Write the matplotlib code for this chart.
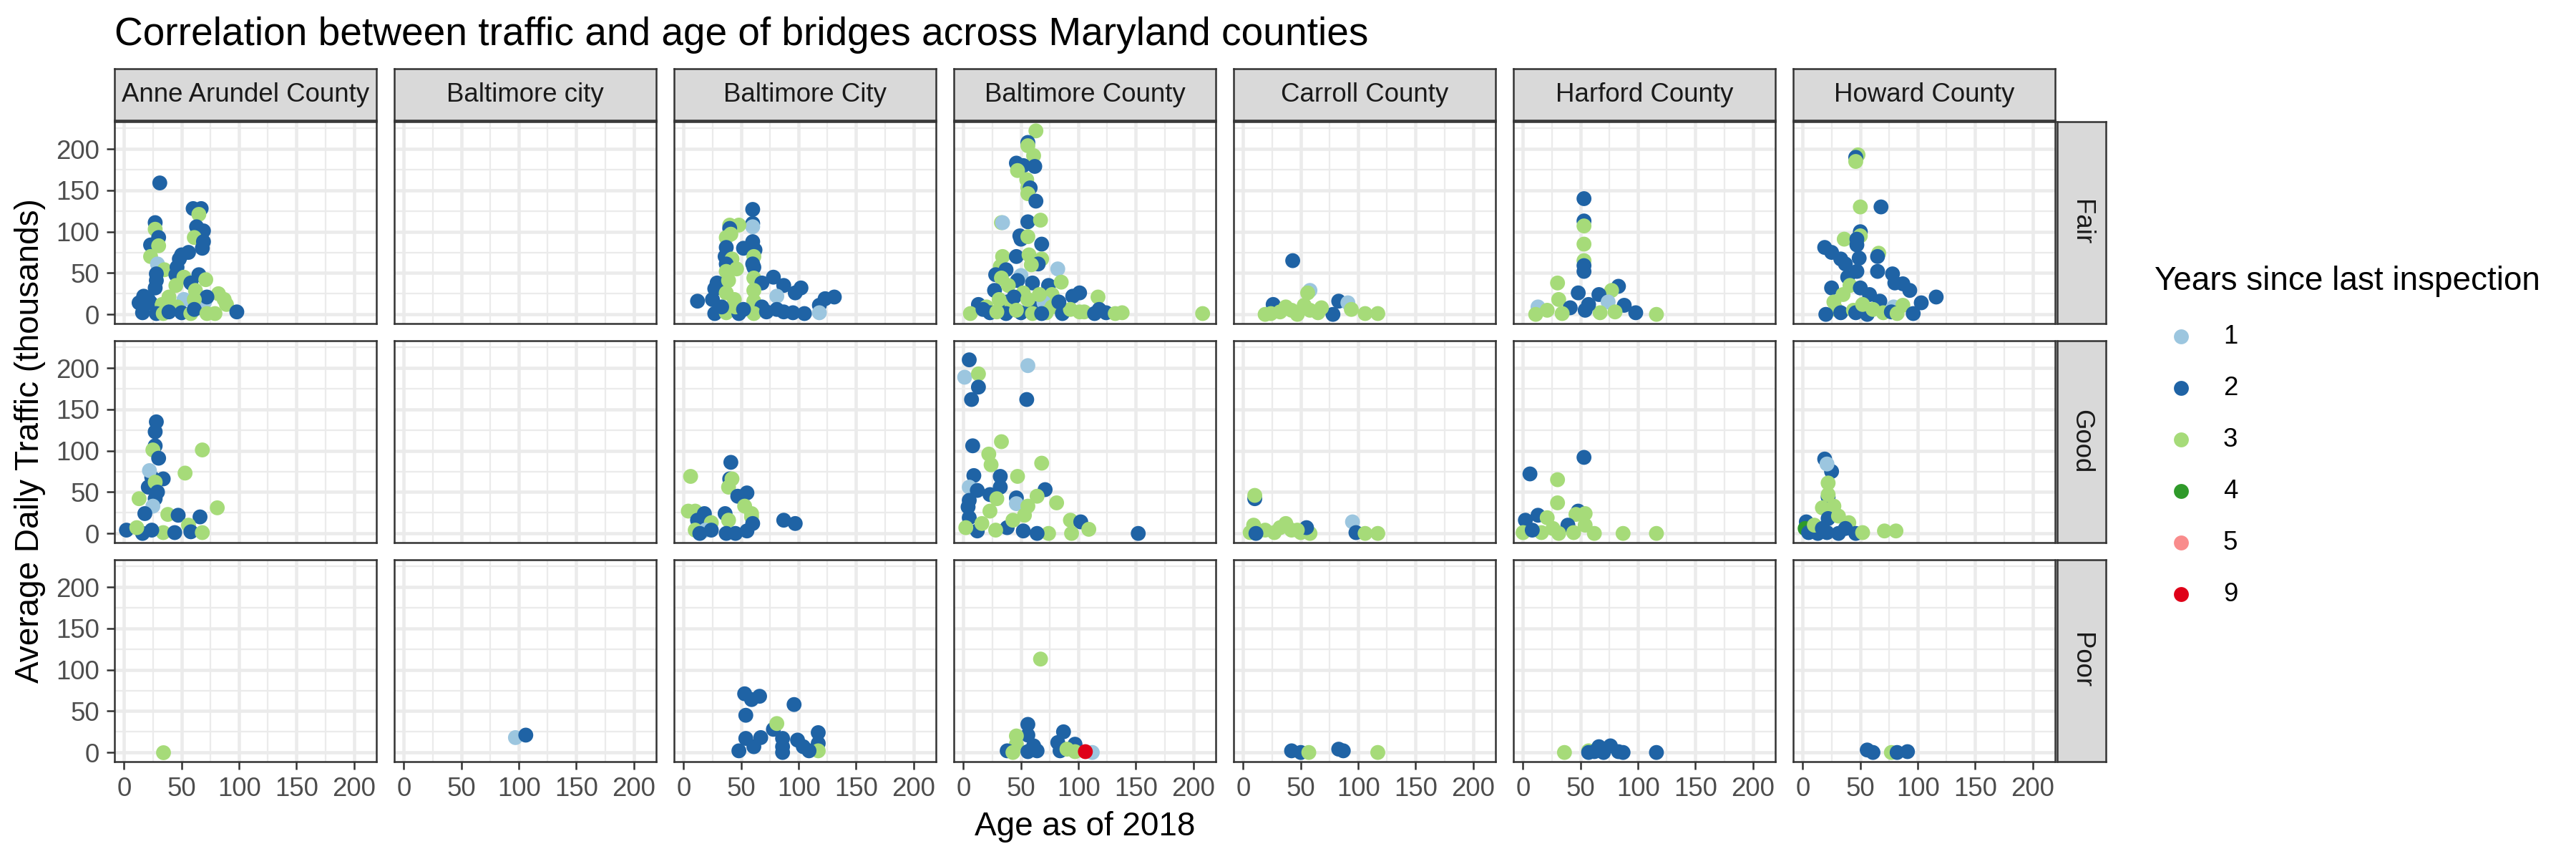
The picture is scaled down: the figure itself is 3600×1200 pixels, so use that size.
"""
Faceted scatter: bridge traffic vs. age, by county and condition
"""
import matplotlib
matplotlib.use("Agg")
import matplotlib.pyplot as plt

plt.rcParams["font.family"] = ["Liberation Sans", "DejaVu Sans"]

# facets
COUNTIES = ["Anne Arundel County", "Baltimore city", "Baltimore City", "Baltimore County",
            "Carroll County", "Harford County", "Howard County"]
CONDITIONS = ["Fair", "Good", "Poor"]

# years since last inspection -> colour
YEAR_LEVELS = [1, 2, 3, 4, 5, 9]
YEAR_COLORS = {1: "#9CC6DF", 2: "#1F63A5", 3: "#A6DB79", 4: "#2F9A2A", 5: "#F98C8C", 9: "#DF0018"}

TICKS = [0, 50, 100, 150, 200]
MINOR = [25, 75, 125, 175, 225]

# (age as of 2018, average daily traffic in thousands, years since inspection)
ANNE_FAIR = [(31, 159, 2), (60, 128, 2), (67, 128, 2), (65, 121, 3), (27, 111, 2), (27, 103, 3),
             (63, 106, 2), (69, 101, 2), (30, 93, 2), (61, 93, 3), (69, 88, 2), (23, 84, 2),
             (30, 83, 3), (68, 80, 2), (23, 70, 3), (56, 75, 2), (50, 72, 2), (48, 67, 2),
             (29, 61, 1), (35, 54, 3), (46, 57, 2), (28, 49, 2), (45, 48, 2), (65, 48, 2),
             (71, 42, 3), (28, 41, 2), (52, 45, 3), (58, 38, 2), (27, 32, 2), (45, 35, 3),
             (62, 29, 3), (17, 22, 2), (39, 21, 3), (82, 25, 3), (87, 18, 3), (13, 14, 2),
             (23, 14, 2), (33, 12, 3), (52, 18, 1), (70, 15, 1), (72, 21, 2), (61, 18, 3),
             (46, 9, 3), (16, 2, 2), (28, 1, 2), (34, 1, 3), (50, 2, 2), (58, 1, 3), (61, 6, 2),
             (72, 1, 3), (79, 1, 3), (89, 12, 3), (98, 3, 2), (39, 3, 2), (21, 18, 2)]
ANNE_GOOD = [(28, 135, 2), (27, 123, 2), (27, 106, 2), (25, 101, 3), (68, 101, 3), (30, 91, 2),
             (24, 68, 2), (22, 76, 1), (34, 66, 2), (53, 73, 3), (21, 56, 2), (27, 62, 3),
             (29, 50, 2), (13, 42, 3), (27, 42, 2), (25, 33, 1), (81, 31, 3), (18, 24, 2),
             (38, 23, 3), (47, 22, 2), (66, 20, 2), (56, 10, 3), (2, 4, 2), (16, 0, 2),
             (34, 1, 3), (44, 1, 2), (58, 2, 2), (68, 1, 3), (11, 7, 3), (24, 4, 2)]
ANNE_POOR = [(34, 0, 3)]

BCITYL_POOR = [(97, 18, 1), (106, 21, 2)]

BCITY_FAIR = [(60, 127, 2), (60, 110, 2), (60, 106, 1), (40, 108, 3), (48, 108, 3), (40, 104, 2),
              (37, 93, 3), (41, 97, 3), (60, 88, 2), (37, 81, 2), (52, 80, 2), (62, 78, 2),
              (61, 70, 3), (36, 70, 2), (42, 67, 3), (60, 61, 2), (37, 61, 2), (46, 55, 3),
              (37, 52, 3), (61, 57, 2), (78, 45, 2), (61, 44, 3), (29, 38, 2), (39, 41, 3),
              (68, 38, 2), (87, 35, 2), (102, 32, 2), (27, 31, 2), (37, 26, 3), (61, 29, 3),
              (97, 26, 2), (81, 22, 1), (12, 16, 2), (25, 18, 2), (44, 18, 3), (61, 16, 3),
              (68, 9, 2), (81, 6, 2), (123, 19, 2), (131, 21, 2), (118, 11, 2), (105, 1, 2),
              (95, 2, 2), (87, 3, 2), (118, 2, 1), (27, 1, 2), (37, 2, 3), (48, 1, 2),
              (61, 1, 3), (45, 9, 3), (33, 9, 2), (52, 6, 2), (72, 3, 2)]
BCITY_GOOD = [(6, 69, 3), (41, 86, 2), (40, 66, 2), (42, 66, 3), (39, 56, 3), (47, 45, 2),
              (55, 49, 2), (4, 27, 3), (10, 27, 3), (18, 24, 2), (36, 24, 2), (53, 33, 3),
              (59, 24, 3), (59, 20, 3), (12, 16, 2), (24, 13, 3), (39, 16, 3), (60, 12, 2),
              (87, 16, 2), (97, 12, 2), (10, 4, 3), (19, 4, 1), (24, 4, 2), (37, 0, 2),
              (45, 0, 2), (55, 3, 2), (14, 0, 2)]
BCITY_POOR = [(53, 71, 2), (59, 64, 2), (66, 68, 2), (96, 58, 2), (54, 45, 2), (78, 28, 2),
              (81, 35, 3), (54, 17, 2), (67, 18, 2), (86, 17, 2), (99, 15, 2), (117, 24, 2),
              (117, 11, 2), (117, 2, 3), (48, 2, 2), (61, 7, 2), (86, 7, 2), (86, 0, 2),
              (104, 7, 2), (109, 2, 2)]

BCOUNTY_FAIR = [(63, 222, 3), (56, 208, 2), (56, 204, 3), (61, 192, 3), (46, 183, 2), (49, 177, 2),
                (62, 179, 2), (52, 180, 2), (47, 174, 3), (55, 163, 3), (56, 153, 3), (58, 153, 2),
                (56, 146, 3), (63, 137, 2), (33, 111, 3), (34, 111, 1), (56, 112, 2), (67, 114, 3),
                (49, 95, 2), (50, 91, 2), (56, 94, 3), (68, 85, 2), (34, 70, 3), (46, 70, 2),
                (57, 72, 3), (68, 67, 3), (65, 61, 2), (32, 58, 3), (37, 54, 2), (28, 48, 2),
                (59, 60, 3), (82, 55, 1), (33, 44, 3), (50, 47, 1), (47, 41, 2), (60, 38, 2),
                (74, 35, 2), (85, 39, 3), (27, 29, 2), (39, 35, 3), (52, 26, 3), (77, 24, 3),
                (101, 26, 2), (95, 22, 2), (117, 21, 3), (13, 12, 2), (20, 9, 3), (38, 15, 2),
                (42, 12, 3), (60, 8, 2), (70, 14, 1), (77, 9, 3), (6, 1, 3), (23, 2, 2),
                (37, 1, 2), (50, 2, 2), (60, 1, 3), (72, 2, 3), (86, 1, 2), (93, 6, 3),
                (105, 3, 3), (118, 6, 2), (124, 2, 2), (132, 1, 3), (138, 2, 3), (208, 1, 3),
                (31, 18, 3), (44, 21, 2), (56, 18, 3), (66, 24, 3), (83, 15, 2), (17, 6, 2),
                (29, 3, 3), (46, 5, 3), (68, 1, 2), (101, 3, 3), (114, 1, 2)]
BCOUNTY_GOOD = [(5, 210, 2), (56, 203, 1), (1, 189, 1), (13, 193, 3), (13, 177, 2), (7, 162, 2),
                (55, 162, 2), (8, 106, 2), (33, 111, 3), (22, 96, 3), (24, 83, 3), (68, 85, 3),
                (9, 70, 2), (32, 69, 2), (47, 69, 3), (5, 56, 1), (32, 56, 2), (12, 52, 2),
                (71, 53, 2), (5, 40, 2), (23, 47, 2), (46, 43, 2), (64, 45, 3), (29, 42, 3),
                (46, 36, 1), (56, 33, 3), (81, 37, 3), (4, 32, 2), (23, 27, 3), (5, 19, 2),
                (53, 22, 3), (93, 16, 3), (102, 14, 2), (38, 7, 2), (52, 3, 2), (12, 3, 2),
                (2, 7, 3), (28, 4, 3), (74, 0, 3), (94, 0, 3), (109, 5, 3), (152, 0, 2),
                (64, 0, 2), (16, 12, 3), (43, 16, 3)]
BCOUNTY_POOR = [(67, 113, 3), (56, 34, 2), (56, 21, 2), (46, 20, 3), (87, 25, 2), (82, 12, 2),
                (61, 8, 2), (46, 10, 3), (38, 2, 2), (43, 0, 3), (56, 1, 2), (97, 10, 2),
                (84, 2, 2), (97, 1, 3), (64, 2, 2), (90, 4, 3), (112, 0, 1), (106, 1, 9)]

CARROLL_FAIR = [(43, 65, 2), (58, 29, 1), (56, 26, 3), (26, 12, 2), (83, 16, 2), (91, 14, 1),
                (94, 6, 3), (19, 0, 3), (32, 3, 3), (42, 5, 3), (53, 11, 3), (65, 2, 3),
                (78, 0, 2), (106, 1, 3), (117, 1, 3), (24, 1, 3), (37, 9, 3), (47, 0, 3),
                (68, 8, 3), (58, 5, 3)]
CARROLL_GOOD = [(10, 42, 2), (10, 46, 3), (9, 10, 3), (6, 1, 3), (19, 4, 3), (32, 7, 3),
                (42, 4, 3), (50, 1, 3), (58, 0, 3), (27, 1, 3), (37, 12, 3), (55, 7, 2),
                (47, 4, 3), (95, 14, 1), (98, 1, 2), (106, 0, 3), (117, 0, 3), (11, 0, 2)]
CARROLL_POOR = [(42, 2, 2), (50, 0, 2), (57, 0, 3), (83, 4, 2), (87, 2, 2), (117, 0, 3)]

HARFORD_FAIR = [(53, 140, 2), (53, 113, 2), (53, 107, 3), (53, 85, 3), (53, 65, 3), (53, 59, 2),
                (53, 52, 2), (30, 38, 3), (83, 34, 2), (77, 29, 3), (48, 26, 2), (66, 24, 2),
                (31, 18, 3), (74, 15, 1), (88, 11, 2), (13, 9, 1), (21, 5, 3), (41, 8, 2),
                (54, 5, 2), (67, 2, 3), (98, 2, 2), (116, 0, 3), (11, 0, 3), (34, 1, 3),
                (80, 3, 3), (57, 12, 2)]
HARFORD_GOOD = [(53, 92, 2), (6, 72, 2), (30, 65, 3), (30, 37, 3), (48, 27, 2), (46, 23, 3),
                (54, 24, 3), (13, 22, 2), (2, 16, 2), (21, 19, 3), (54, 10, 3), (39, 10, 2),
                (0, 1, 3), (16, 1, 3), (31, 0, 3), (44, 1, 3), (62, 0, 3), (87, 0, 3),
                (116, 0, 3), (8, 4, 2), (26, 6, 3)]
HARFORD_POOR = [(36, 0, 3), (57, 2, 3), (57, 0, 2), (66, 7, 2), (76, 8, 2), (83, 1, 2),
                (70, 0, 2), (87, 0, 2), (116, 0, 2), (62, 1, 2)]

HOWARD_FAIR = [(48, 193, 3), (46, 190, 2), (46, 185, 3), (50, 130, 3), (68, 130, 2), (50, 100, 2),
               (50, 95, 3), (36, 91, 3), (47, 91, 2), (19, 81, 2), (25, 75, 2), (47, 84, 2),
               (66, 74, 3), (33, 67, 2), (49, 68, 2), (65, 70, 2), (37, 61, 2), (65, 52, 2),
               (78, 49, 2), (47, 52, 2), (39, 45, 2), (80, 38, 2), (87, 37, 2), (93, 29, 2),
               (25, 32, 2), (41, 35, 3), (50, 32, 2), (58, 24, 2), (67, 16, 2), (103, 14, 2),
               (116, 21, 2), (79, 9, 1), (87, 11, 3), (27, 15, 3), (29, 6, 3), (20, 0, 2),
               (33, 2, 2), (44, 5, 3), (46, 2, 2), (56, 0, 2), (61, 6, 3), (70, 2, 3),
               (77, 3, 2), (82, 1, 3), (96, 1, 2), (52, 12, 3), (35, 24, 3)]
HOWARD_GOOD = [(19, 90, 2), (25, 75, 2), (21, 84, 1), (22, 61, 3), (22, 44, 2), (22, 47, 3),
               (17, 31, 3), (27, 33, 3), (22, 18, 2), (31, 21, 3), (40, 13, 3), (3, 14, 2),
               (2, 6, 4), (5, 1, 2), (13, 0, 2), (21, 1, 2), (31, 0, 2), (37, 6, 2),
               (46, 0, 2), (52, 1, 3), (71, 3, 3), (81, 3, 3), (10, 10, 3), (17, 6, 2)]
HOWARD_POOR = [(56, 3, 2), (61, 0, 2), (77, 0, 3), (82, 0, 2), (91, 1, 2)]

PANELS = {
    ("Anne Arundel County", "Fair"): ANNE_FAIR,
    ("Anne Arundel County", "Good"): ANNE_GOOD,
    ("Anne Arundel County", "Poor"): ANNE_POOR,
    ("Baltimore city", "Poor"): BCITYL_POOR,
    ("Baltimore City", "Fair"): BCITY_FAIR,
    ("Baltimore City", "Good"): BCITY_GOOD,
    ("Baltimore City", "Poor"): BCITY_POOR,
    ("Baltimore County", "Fair"): BCOUNTY_FAIR,
    ("Baltimore County", "Good"): BCOUNTY_GOOD,
    ("Baltimore County", "Poor"): BCOUNTY_POOR,
    ("Carroll County", "Fair"): CARROLL_FAIR,
    ("Carroll County", "Good"): CARROLL_GOOD,
    ("Carroll County", "Poor"): CARROLL_POOR,
    ("Harford County", "Fair"): HARFORD_FAIR,
    ("Harford County", "Good"): HARFORD_GOOD,
    ("Harford County", "Poor"): HARFORD_POOR,
    ("Howard County", "Fair"): HOWARD_FAIR,
    ("Howard County", "Good"): HOWARD_GOOD,
    ("Howard County", "Poor"): HOWARD_POOR,
}

# layout in pixels of the 3600x1200 output
W, H = 3600, 1200
PANEL_L0, PANEL_DX, PANEL_W = 160, 391, 366
PANEL_T0, PANEL_DY, PANEL_H = 170, 306, 282
STRIP_FILL = "#D9D9D9"
BORDER = "#333333"
PT_SIZE = 25


def px_rect(x, y, w, h):
    """像素矩形 -> figure 坐标"""
    return [x / W, 1 - (y + h) / H, w / W, h / H]


def style_strip(ax):
    ax.set_facecolor(STRIP_FILL)
    ax.set_xticks([])
    ax.set_yticks([])
    for sp in ax.spines.values():
        sp.set_color(BORDER)
        sp.set_linewidth(0.6)


fig = plt.figure(figsize=(12, 4), dpi=300)

for r, cond in enumerate(CONDITIONS):
    for c, county in enumerate(COUNTIES):
        left = PANEL_L0 + c * PANEL_DX
        top = PANEL_T0 + r * PANEL_DY
        ax = fig.add_axes(px_rect(left, top, PANEL_W, PANEL_H))
        pts = PANELS.get((county, cond), [])
        if pts:
            ages = [p[0] for p in pts]
            adt = [p[1] for p in pts]
            cols = [YEAR_COLORS[p[2]] for p in pts]
            ax.scatter(ages, adt, c=cols, s=PT_SIZE, linewidths=0, zorder=3)
        ax.set_xlim(-8.4, 219.4)
        ax.set_ylim(-11.1, 233.1)
        ax.set_xticks(TICKS)
        ax.set_yticks(TICKS)
        ax.set_xticks(MINOR[:-1], minor=True)
        ax.set_yticks(MINOR, minor=True)
        ax.set_axisbelow(True)
        ax.grid(which="major", color="#EBEBEB", linewidth=1.1)
        ax.grid(which="minor", color="#EBEBEB", linewidth=0.55)
        ax.tick_params(which="minor", length=0)
        ax.tick_params(which="major", length=2.75, width=0.6, color=BORDER,
                       labelcolor="#4D4D4D", labelsize=8.8, pad=2.2)
        if c != 0:
            ax.tick_params(axis="y", length=0, labelleft=False)
        if r != len(CONDITIONS) - 1:
            ax.tick_params(axis="x", length=0, labelbottom=False)
        for sp in ax.spines.values():
            sp.set_color(BORDER)
            sp.set_linewidth(0.6)

        # strips
        if r == 0:
            sax = fig.add_axes(px_rect(left, 96, PANEL_W, 72))
            style_strip(sax)
            sax.text(0.5, 0.5, county, ha="center", va="center", fontsize=8.8,
                     color="#1A1A1A", transform=sax.transAxes)
        if c == len(COUNTIES) - 1:
            sax = fig.add_axes(px_rect(left + PANEL_W + 3, top, 68, PANEL_H))
            style_strip(sax)
            sax.text(0.5, 0.5, cond, ha="center", va="center", fontsize=8.8,
                     rotation=270, color="#1A1A1A", transform=sax.transAxes)

fig.text(PANEL_L0 / W, 1 - 63 / H,
         "Correlation between traffic and age of bridges across Maryland counties",
         ha="left", va="baseline", fontsize=13.2, color="black")
fig.text(42 / W, 1 - 616 / H, "Average Daily Traffic (thousands)", rotation=90,
         ha="center", va="center", fontsize=11, color="black")
fig.text(1516 / W, 1 - 1167 / H, "Age as of 2018", ha="center", va="baseline",
         fontsize=11, color="black")

# legend
lax = fig.add_axes([0, 0, 1, 1])
lax.set_xlim(0, W)
lax.set_ylim(H, 0)
lax.axis("off")
lax.text(3011, 405, "Years since last inspection", ha="left", va="baseline",
         fontsize=11, color="black")
for i, yr in enumerate(YEAR_LEVELS):
    yy = 470 + 72 * i
    lax.scatter([3048], [yy], s=PT_SIZE, c=YEAR_COLORS[yr], linewidths=0)
    lax.text(3107, yy, str(yr), ha="left", va="center", fontsize=8.8, color="black")

fig.savefig("out.png", dpi=300)
plt.close()
